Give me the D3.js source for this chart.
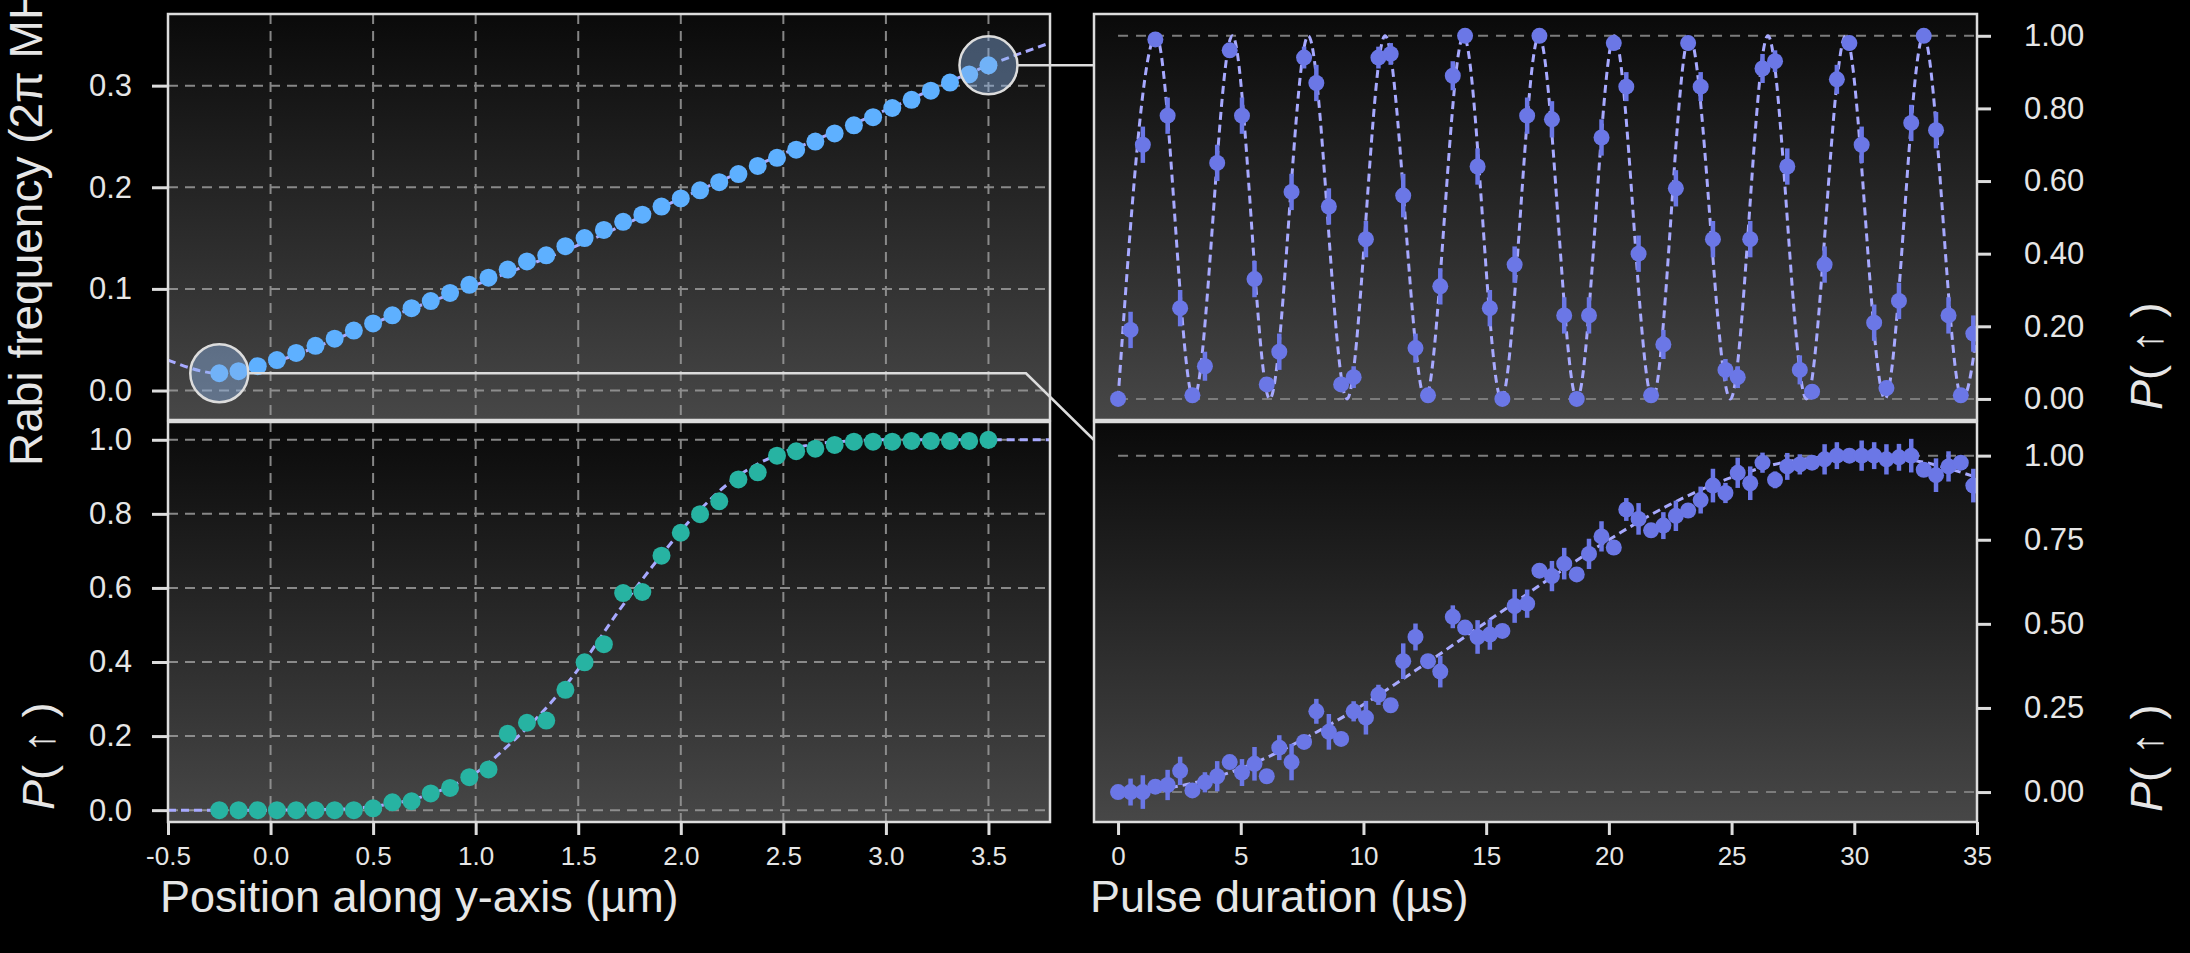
<!DOCTYPE html>
<html>
<head>
<meta charset="utf-8">
<script src="https://cdn.jsdelivr.net/npm/d3@7"></script>
<style>
  html, body { margin: 0; padding: 0; background: #000; }
  svg { display: block; }
</style>
</head>
<body>
<svg id="chart" width="2190" height="953"></svg>
<script>
// ---------- data ----------
// positions along the y-axis (µm)
const posX = [-0.25, -0.156, -0.0625, 0.031, 0.125, 0.219, 0.3125, 0.406, 0.5, 0.594,
  0.6875, 0.781, 0.875, 0.969, 1.0625, 1.156, 1.25, 1.344, 1.4375, 1.531,
  1.625, 1.719, 1.8125, 1.906, 2.0, 2.094, 2.1875, 2.281, 2.375, 2.469,
  2.5625, 2.656, 2.75, 2.844, 2.9375, 3.031, 3.125, 3.219, 3.3125, 3.406, 3.5];
// Rabi frequency (2π MHz) at each position
const rabiFreq = [0.017, 0.019, 0.024, 0.030, 0.037, 0.044, 0.051, 0.059, 0.066, 0.074,
  0.081, 0.088, 0.096, 0.104, 0.111, 0.119, 0.127, 0.133, 0.142, 0.150,
  0.158, 0.166, 0.173, 0.181, 0.189, 0.197, 0.205, 0.213, 0.221, 0.229,
  0.237, 0.245, 0.253, 0.261, 0.269, 0.278, 0.286, 0.295, 0.303, 0.311, 0.320];
// spin-up probability at each position
const flipProb = [0.0, 0.0, 0.0, 0.0, 0.0, 0.0, 0.0, 0.0, 0.005, 0.021,
  0.024, 0.045, 0.060, 0.089, 0.110, 0.206, 0.236, 0.242, 0.325, 0.399,
  0.448, 0.586, 0.589, 0.687, 0.749, 0.799, 0.834, 0.893, 0.912, 0.957,
  0.969, 0.976, 0.986, 0.995, 0.995, 0.995, 0.997, 0.997, 0.997, 0.997, 1.0];
// model curves (knots)
const rabiFitX = [-0.5, -0.25, 0.0, 0.25, 0.5, 1.0, 1.5, 2.0, 2.5, 3.0, 3.5, 3.8];
const rabiFitY = [0.030, 0.017, 0.027, 0.045, 0.066, 0.104, 0.143, 0.189, 0.233, 0.276, 0.320, 0.342];
const flipFitX = [-0.5, 0.0, 0.3, 0.5, 0.7, 0.9, 1.0, 1.15, 1.3, 1.5, 1.7, 1.9, 2.05, 2.25, 2.45, 2.6, 2.8, 3.0, 3.8];
const flipFitY = [0.0, 0.0, 0.002, 0.01, 0.03, 0.07, 0.10, 0.17, 0.25, 0.38, 0.54, 0.685, 0.785, 0.89, 0.955, 0.983, 0.996, 1.0, 1.0];

// pulse durations (µs)
const pulseT = [0, 0.51, 1.01, 1.52, 2.02, 2.53, 3.03, 3.54, 4.04, 4.55,
  5.05, 5.56, 6.06, 6.57, 7.07, 7.58, 8.08, 8.59, 9.09, 9.60,
  10.10, 10.61, 11.11, 11.62, 12.12, 12.63, 13.13, 13.64, 14.14, 14.65,
  15.15, 15.66, 16.16, 16.67, 17.17, 17.68, 18.18, 18.69, 19.19, 19.70,
  20.20, 20.71, 21.21, 21.72, 22.22, 22.73, 23.23, 23.74, 24.24, 24.75,
  25.25, 25.76, 26.26, 26.77, 27.27, 27.78, 28.28, 28.79, 29.29, 29.80,
  30.30, 30.81, 31.31, 31.82, 32.32, 32.83, 33.33, 33.84, 34.34, 34.85];
// fast oscillation (at 3.5 µm)
const fastP = [0.00, 0.19, 0.70, 0.99, 0.78, 0.25, 0.01, 0.09, 0.65, 0.96,
  0.78, 0.33, 0.04, 0.13, 0.57, 0.94, 0.87, 0.53, 0.04, 0.06,
  0.44, 0.94, 0.95, 0.56, 0.14, 0.01, 0.31, 0.89, 1.00, 0.64,
  0.25, 0.00, 0.37, 0.78, 1.00, 0.77, 0.23, 0.00, 0.23, 0.72,
  0.98, 0.86, 0.40, 0.01, 0.15, 0.58, 0.98, 0.86, 0.44, 0.08,
  0.06, 0.44, 0.91, 0.93, 0.64, 0.08, 0.02, 0.37, 0.88, 0.98,
  0.70, 0.21, 0.03, 0.27, 0.76, 1.00, 0.74, 0.23, 0.01, 0.18];
const fastErr = [0.01, 0.05, 0.05, 0.02, 0.05, 0.05, 0.01, 0.04, 0.05, 0.02,
  0.05, 0.05, 0.02, 0.05, 0.05, 0.03, 0.05, 0.05, 0.02, 0.03,
  0.05, 0.03, 0.03, 0.06, 0.04, 0.01, 0.05, 0.04, 0.01, 0.05,
  0.05, 0.01, 0.05, 0.05, 0.01, 0.05, 0.05, 0.01, 0.05, 0.05,
  0.02, 0.04, 0.05, 0.01, 0.04, 0.05, 0.02, 0.04, 0.05, 0.03,
  0.03, 0.05, 0.04, 0.03, 0.05, 0.04, 0.02, 0.05, 0.04, 0.02,
  0.05, 0.05, 0.02, 0.05, 0.05, 0.01, 0.05, 0.05, 0.01, 0.05];
// slow oscillation (at -0.25 µm)
const slowP = [0.000, 0.000, 0.000, 0.016, 0.021, 0.063, 0.005, 0.029, 0.047, 0.089,
  0.058, 0.084, 0.047, 0.132, 0.089, 0.149, 0.240, 0.179, 0.158, 0.240,
  0.221, 0.289, 0.258, 0.389, 0.461, 0.389, 0.358, 0.521, 0.489, 0.461,
  0.468, 0.479, 0.553, 0.560, 0.658, 0.642, 0.679, 0.647, 0.708, 0.760,
  0.727, 0.840, 0.812, 0.778, 0.792, 0.821, 0.837, 0.868, 0.911, 0.889,
  0.949, 0.918, 0.979, 0.928, 0.968, 0.974, 0.979, 0.989, 1.000, 1.000,
  1.000, 1.000, 0.989, 0.995, 1.000, 0.958, 0.942, 0.968, 0.979, 0.911];
const slowErr = [0.015, 0.04, 0.05, 0.015, 0.045, 0.042, 0.015, 0.03, 0.045, 0.015,
  0.04, 0.05, 0.015, 0.037, 0.054, 0.015, 0.037, 0.053, 0.015, 0.03,
  0.05, 0.03, 0.015, 0.053, 0.04, 0.015, 0.047, 0.034, 0.015, 0.05,
  0.045, 0.015, 0.05, 0.042, 0.015, 0.045, 0.047, 0.015, 0.045, 0.045,
  0.015, 0.034, 0.047, 0.015, 0.04, 0.045, 0.02, 0.04, 0.05, 0.03,
  0.045, 0.05, 0.03, 0.025, 0.04, 0.03, 0.02, 0.045, 0.04, 0.02,
  0.045, 0.04, 0.045, 0.04, 0.05, 0.02, 0.05, 0.045, 0.02, 0.05];
// model curves (extrema / knots)
const fastFitT = [0, 1.55, 3.08, 4.66, 6.18, 7.75, 9.33, 10.88, 12.52, 14.08, 15.62, 17.15,
  18.70, 20.22, 21.78, 23.28, 24.95, 26.48, 28.05, 29.65, 31.25, 32.82, 34.40, 35.96];
const fastFitP = [0, 1, 0, 1, 0, 1, 0, 1, 0, 1, 0, 1, 0, 1, 0, 1, 0, 1, 0, 1, 0, 1, 0, 1];
const slowFitT = [0, 2.5, 5, 7.5, 10, 12.5, 15, 17.5, 20, 22.5, 25, 27.5, 30, 32.5, 35];
const slowFitP = [0, 0.018, 0.07, 0.155, 0.26, 0.38, 0.505, 0.63, 0.75, 0.855, 0.935, 0.985, 1.0, 0.985, 0.935];

// tick values
const posTicks = [-0.5, 0.0, 0.5, 1.0, 1.5, 2.0, 2.5, 3.0, 3.5];
const rabiTicks = [0.0, 0.1, 0.2, 0.3];
const flipTicks = [0.0, 0.2, 0.4, 0.6, 0.8, 1.0];
const pulseTicks = [0, 5, 10, 15, 20, 25, 30, 35];
const fastTicks = [0.0, 0.2, 0.4, 0.6, 0.8, 1.0];
const slowTicks = [0.0, 0.25, 0.5, 0.75, 1.0];

// ---------- layout ----------
const FONT = '"Liberation Sans", Arial, Helvetica, sans-serif';
const TXT = "#e6e6e6";
const LINE = "#dcdcdc";
const BLUE = "#5eb0ff", TEAL = "#27b3a2", VIOLET = "#6b77e6", FIT = "#a7a9ff";

const xPos = d3.scaleLinear([-0.5, 3.8], [168, 1050]);
const xPulse = d3.scaleLinear([-0.98, 35], [1094, 1977]);
const yRabi = d3.scaleLinear([-0.029, 0.3705], [420, 14]);
const yFlip = d3.scaleLinear([-0.032, 1.048], [822, 422]);
const yFast = d3.scaleLinear([-0.058, 1.06], [420, 14]);
const ySlow = d3.scaleLinear([-0.089, 1.1], [822, 422]);

const svg = d3.select("#chart");
svg.append("rect").attr("width", 2190).attr("height", 953).attr("fill", "#000");
const defs = svg.append("defs");
const grad = defs.append("linearGradient").attr("id", "shade")
  .attr("x1", 0).attr("y1", 0).attr("x2", 0).attr("y2", 1);
grad.append("stop").attr("offset", 0).attr("stop-color", "#0a0a0a");
grad.append("stop").attr("offset", 1).attr("stop-color", "#474747");

function makePanel(id, x, y) {
  const [x0, x1] = x.range();
  const [y1, y0] = y.range();
  svg.append("rect").attr("x", x0).attr("y", y0)
    .attr("width", x1 - x0).attr("height", y1 - y0).attr("fill", "url(#shade)");
  defs.append("clipPath").attr("id", id).append("rect")
    .attr("x", x0).attr("y", y0).attr("width", x1 - x0).attr("height", y1 - y0);
  const inner = svg.append("g").attr("clip-path", `url(#${id})`);
  return { inner, x0, x1, y0, y1 };
}

function frame(p) {
  svg.append("rect").attr("x", p.x0).attr("y", p.y0)
    .attr("width", p.x1 - p.x0).attr("height", p.y1 - p.y0)
    .attr("fill", "none").attr("stroke", LINE).attr("stroke-width", 2.5);
}

function grid(p, x, y, xt, yt) {
  const g = p.inner.append("g").attr("stroke", "#9b9b9b").attr("stroke-width", 2)
    .attr("stroke-dasharray", "10,7").attr("opacity", 0.85);
  g.selectAll(".gx").data(xt).join("line")
    .attr("x1", d => x(d)).attr("x2", d => x(d)).attr("y1", p.y0).attr("y2", p.y1);
  g.selectAll(".gy").data(yt).join("line")
    .attr("x1", p.x0).attr("x2", p.x1).attr("y1", d => y(d)).attr("y2", d => y(d));
}

function refLines(p, x, y) {
  p.inner.append("g").attr("stroke", "#7c7c7c").attr("stroke-width", 2)
    .attr("stroke-dasharray", "10,8")
    .selectAll("line").data([0, 1]).join("line")
    .attr("x1", x(0)).attr("x2", p.x1).attr("y1", d => y(d)).attr("y2", d => y(d));
}

function fitLine(p, xs, ys, x, y) {
  const pts = xs.map((v, i) => [x(v), y(ys[i])]);
  p.inner.append("path").datum(pts)
    .attr("d", d3.line().curve(d3.curveMonotoneX))
    .attr("fill", "none").attr("stroke", FIT).attr("stroke-width", 3)
    .attr("stroke-dasharray", "8,5");
}

function dots(p, xs, ys, x, y, color, r) {
  p.inner.append("g").selectAll("circle").data(xs).join("circle")
    .attr("cx", d => x(d)).attr("cy", (d, i) => y(ys[i])).attr("r", r).attr("fill", color);
}

function errBars(p, xs, ys, es, x, y, color) {
  p.inner.append("g").attr("stroke", color).attr("stroke-width", 4.5)
    .selectAll("line").data(xs).join("line")
    .attr("x1", d => x(d)).attr("x2", d => x(d))
    .attr("y1", (d, i) => y(ys[i] - es[i])).attr("y2", (d, i) => y(ys[i] + es[i]));
}

function styleAxis(g, size) {
  g.attr("font-family", FONT).attr("font-size", size);
  g.select(".domain").remove();
  g.selectAll(".tick line").attr("stroke", LINE).attr("stroke-width", 3);
  g.selectAll(".tick text").attr("fill", TXT);
}

// ---------- top-left: Rabi frequency vs position ----------
const pTL = makePanel("clipTL", xPos, yRabi);
grid(pTL, xPos, yRabi, posTicks, rabiTicks);
fitLine(pTL, rabiFitX, rabiFitY, xPos, yRabi);
dots(pTL, posX, rabiFreq, xPos, yRabi, BLUE, 9);
frame(pTL);

// ---------- bottom-left: spin-up probability vs position ----------
const pBL = makePanel("clipBL", xPos, yFlip);
grid(pBL, xPos, yFlip, posTicks, flipTicks);
fitLine(pBL, flipFitX, flipFitY, xPos, yFlip);
dots(pBL, posX, flipProb, xPos, yFlip, TEAL, 9);
frame(pBL);

// ---------- top-right: fast Rabi oscillation ----------
const pTR = makePanel("clipTR", xPulse, yFast);
refLines(pTR, xPulse, yFast);
fitLine(pTR, fastFitT, fastFitP, xPulse, yFast);
errBars(pTR, pulseT, fastP, fastErr, xPulse, yFast, VIOLET);
dots(pTR, pulseT, fastP, xPulse, yFast, VIOLET, 8);
frame(pTR);

// ---------- bottom-right: slow Rabi oscillation ----------
const pBR = makePanel("clipBR", xPulse, ySlow);
refLines(pBR, xPulse, ySlow);
fitLine(pBR, slowFitT, slowFitP, xPulse, ySlow);
errBars(pBR, pulseT, slowP, slowErr, xPulse, ySlow, VIOLET);
dots(pBR, pulseT, slowP, xPulse, ySlow, VIOLET, 8);
frame(pBR);

// ---------- axes ----------
const fmt1 = v => d3.format(".1f")(v).replace("\u2212", "-");
const fmt2 = d3.format(".2f");
svg.append("g").attr("transform", `translate(${pTL.x0},0)`)
  .call(d3.axisLeft(yRabi).tickValues(rabiTicks).tickFormat(fmt1).tickSize(16).tickPadding(20))
  .call(g => styleAxis(g, 31));
svg.append("g").attr("transform", `translate(${pBL.x0},0)`)
  .call(d3.axisLeft(yFlip).tickValues(flipTicks).tickFormat(fmt1).tickSize(16).tickPadding(20))
  .call(g => styleAxis(g, 31));
svg.append("g").attr("transform", `translate(0,${pBL.y1})`)
  .call(d3.axisBottom(xPos).tickValues(posTicks).tickFormat(fmt1).tickSize(13).tickPadding(12))
  .call(g => styleAxis(g, 26));
svg.append("g").attr("transform", `translate(${pTR.x1},0)`)
  .call(d3.axisRight(yFast).tickValues(fastTicks).tickFormat(fmt2).tickSize(14).tickPadding(33))
  .call(g => styleAxis(g, 31));
svg.append("g").attr("transform", `translate(${pBR.x1},0)`)
  .call(d3.axisRight(ySlow).tickValues(slowTicks).tickFormat(fmt2).tickSize(14).tickPadding(33))
  .call(g => styleAxis(g, 31));
svg.append("g").attr("transform", `translate(0,${pBR.y1})`)
  .call(d3.axisBottom(xPulse).tickValues(pulseTicks).tickFormat(d3.format("d")).tickSize(13).tickPadding(12))
  .call(g => styleAxis(g, 26));

// ---------- highlight circles and connectors ----------
const RING = 29;
const lowPt = [xPos(posX[0]), yRabi(rabiFreq[0])];
const highPt = [xPos(posX[posX.length - 1]), yRabi(rabiFreq[rabiFreq.length - 1])];
svg.append("g").selectAll("circle").data([lowPt, highPt]).join("circle")
  .attr("cx", d => d[0]).attr("cy", d => d[1]).attr("r", RING)
  .attr("fill", "rgba(140,180,235,0.42)").attr("stroke", LINE).attr("stroke-width", 2.5);
const conn = svg.append("g").attr("fill", "none").attr("stroke", LINE).attr("stroke-width", 2.5);
conn.append("path").attr("d", d3.line()([[highPt[0] + RING, highPt[1]], [pTR.x0, highPt[1]]]));
conn.append("path").attr("d", d3.line()([[lowPt[0] + RING, lowPt[1]], [1026, lowPt[1]], [pBR.x0, 440]]));

// ---------- axis titles ----------
const titles = svg.append("g").attr("font-family", FONT).attr("fill", TXT).attr("font-size", 45);
titles.append("text").attr("x", 160).attr("y", 912).text("Position along y-axis (µm)");
titles.append("text").attr("x", 1090).attr("y", 912).text("Pulse duration (µs)");
titles.append("text").attr("font-size", 46).attr("transform", "translate(42,466) rotate(-90)")
  .text("Rabi frequency (2π MHz)");

function probLabel(x, y) {
  const t = titles.append("text").attr("transform", `translate(${x},${y}) rotate(-90)`);
  t.append("tspan").attr("font-style", "italic").text("P");
  t.append("tspan").text("( ↑ )");
}
probLabel(54, 810);
probLabel(2162, 410);
probLabel(2162, 812);
</script>
</body>
</html>
